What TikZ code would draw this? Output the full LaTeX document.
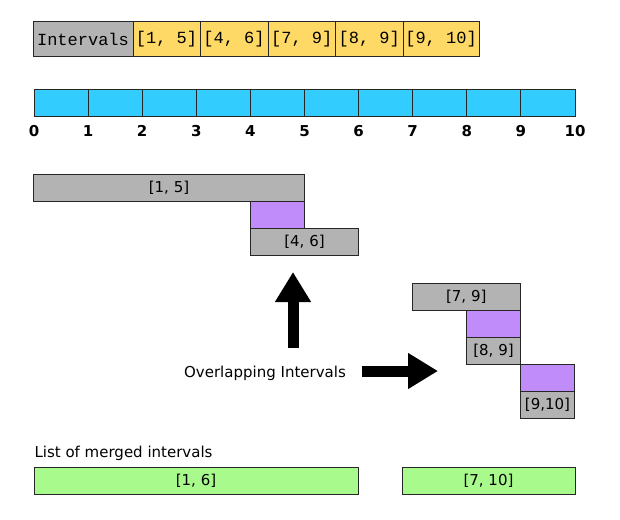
\documentclass[tikz,border=0pt]{standalone}
\usepackage{fontspec}
\setmainfont{DejaVu Sans}
\newfontfamily\codefont{Liberation Mono}
\usetikzlibrary{positioning,
	arrows.meta}
\definecolor{ivgray}{HTML}{B3B3B3}
\definecolor{ivyellow}{HTML}{FFD966}
\definecolor{ivcyan}{HTML}{33CCFF}
\definecolor{ivpurple}{HTML}{C08CFA}
\definecolor{ivgreen}{HTML}{A9FA8C}

\begin{document}
\begin{tikzpicture}[x=1pt, y=-1pt,
	cell/.style={draw=black!85, line width=1pt, inner sep=0pt, outer sep=0pt, anchor=north west, minimum height=27pt},
	code/.style={cell, minimum height=34pt, font=\codefont\fontsize{17}{20}\selectfont},
	bar/.style={cell, fill=ivgray, font=\fontsize{15}{18}\selectfont},
	overlap/.style={cell, fill=ivpurple},
	merged/.style={cell, fill=ivgreen, font=\fontsize{15}{18}\selectfont},
	tick/.style={font=\bfseries\fontsize{15}{18}\selectfont},
	blockarrow/.style={line width=11pt, -{Triangle[width=34pt, length=30pt]}}]
	\useasboundingbox (0, 0) rectangle (620, 519);
	% input list
	\node[code, fill=ivgray, minimum width=100pt] (head) at (33, 22) {Intervals};
	\node[code, fill=ivyellow, minimum width=67pt, right=0pt of head] (in1) {[1, 5]};
	\node[code, fill=ivyellow, minimum width=68pt, right=0pt of in1] (in2) {[4, 6]};
	\node[code, fill=ivyellow, minimum width=67.5pt, right=0pt of in2] (in3) {[7, 9]};
	\node[code, fill=ivyellow, minimum width=67.5pt, right=0pt of in3] (in4) {[8, 9]};
	\node[code, fill=ivyellow, minimum width=76pt, right=0pt of in4] (in5) {[9, 10]};
	% number line
	\foreach \i in {1,...,10}
		\node[cell, fill=ivcyan, minimum width=54.1pt] (cell\i) at ({34+54.1*(\i-1)}, 89) {};
	\foreach \i in {0,...,10}
		\node[tick] (tick\i) at ({34+54.1*\i}, 131) {\i};
	% first overlap
	\node[bar, minimum width=271pt] (bar15) at (33.5, 174.5) {[1, 5]};
	\node[overlap, minimum width=54pt, minimum height=26.5pt] (ovA) at (250.5, 201.5) {};
	\node[bar, minimum width=108pt] (bar46) at (250.5, 228) {[4, 6]};
	% second overlap
	\node[bar, minimum width=108.5pt] (bar79) at (412, 283) {[7, 9]};
	\node[overlap, minimum width=54pt] (ovB) at (466.5, 310) {};
	\node[bar, minimum width=54pt] (bar89) at (466.5, 337) {[8, 9]};
	\node[overlap, minimum width=54pt] (ovC) at (520.5, 364) {};
	\node[bar, minimum width=54pt] (bar910) at (520.5, 391) {[9,10]};
	% arrows
	\node[font=\fontsize{15}{18}\selectfont] (ovl) at (265, 373) {Overlapping Intervals};
	\coordinate (upfoot) at (293, 348);
	\coordinate (uptip) at (293, 272);
	\coordinate (rfoot) at (362, 371);
	\coordinate (rtip) at (438, 371);
	\draw[blockarrow] (upfoot) -- (uptip);
	\draw[blockarrow] (rfoot) -- (rtip);
	% result
	\node[anchor=west, font=\fontsize{15}{18}\selectfont] (mlabel) at (31, 453) {List of merged intervals};
	\node[merged, minimum width=324pt] (res16) at (34, 467) {[1, 6]};
	\node[merged, minimum width=173pt] (res710) at (402, 467) {[7, 10]};
\end{tikzpicture}
\end{document}
